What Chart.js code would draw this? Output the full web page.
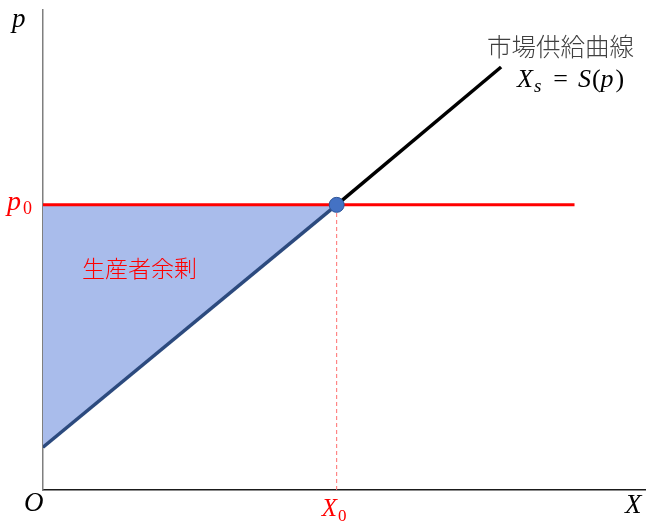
<!DOCTYPE html>
<html><head><meta charset="utf-8">
<script src="https://cdn.jsdelivr.net/npm/chart.js@4/dist/chart.umd.min.js"></script>
<style>html,body{margin:0;padding:0;background:#fff}#w{width:646px;height:521px}</style>
</head><body><div id="w"><canvas id="c" width="646" height="521"></canvas></div>
<script>
// Data (model units)
const X0 = 5;            // equilibrium quantity
const P0 = 6;            // equilibrium price
const supplyLowerX = [0, 5];
const supplyLowerP = [0.9, 6];
const supplyUpperX = [5, 7.8];
const supplyUpperP = [6, 8.9];
const priceLineX = [0, 9.05];
const priceLineP = [6, 6];
const surplusX = [0, 5, 0];
const surplusP = [0.9, 6, 6];
const dropX = [5, 5];
const dropP = [0, 6];
const xLabel = 'X', yLabel = 'p', originLabel = 'O';
const curveTitle = '市場供給曲線';
const surplusLabel = '生産者余剰';

const pts = (xs, ys) => xs.map((x, i) => ({x, y: ys[i]}));

const labels = {
  id: 'labels',
  afterDraw(chart) {
    const {ctx, scales: {x, y}} = chart;
    const serif = '"Liberation Serif", "DejaVu Serif", serif';
    ctx.save();
    ctx.textBaseline = 'alphabetic';
    ctx.textAlign = 'left';
    const seq = (parts, startX, baseY) => {
      let cx = startX;
      for (const [txt, font, dy, gap] of parts) {
        ctx.font = font;
        ctx.fillText(txt, cx, baseY + (dy || 0));
        cx += ctx.measureText(txt).width + (gap || 0);
      }
    };
    // axis names
    ctx.fillStyle = '#000';
    ctx.font = 'italic 27px ' + serif;
    ctx.fillText(yLabel, 12, 27);
    ctx.fillText(originLabel, 24, 511);
    ctx.fillText(xLabel, 625, 513);
    // X0
    const xp = x.getPixelForValue(X0);
    ctx.fillStyle = '#FF0000';
    seq([['X', 'italic 25px ' + serif, 0, 1], ['0', '17px ' + serif, 5]], xp - 15, 516);
    // p0
    const yp = y.getPixelForValue(P0);
    seq([['p', 'italic 28px ' + serif, 0, 2], ['0', '18px ' + serif, 4]], 7, yp + 5);
    // surplus label
    ctx.font = '300 23px "Noto Sans CJK JP"';
    ctx.fillStyle = '#FF0000';
    ctx.fillText(surplusLabel, 82, 277);
    // curve title
    ctx.fillStyle = '#404040';
    ctx.font = '300 24.5px "Noto Sans CJK JP"';
    ctx.fillText(curveTitle, 487, 56);
    ctx.fillStyle = '#000';
    seq([
      ['X', 'italic 26px ' + serif, 0, 1],
      ['s', 'italic 19px ' + serif, 5, 12],
      ['=', '26px ' + serif, 0, 10],
      ['S', 'italic 26px ' + serif, 0, 1],
      ['(', '26px ' + serif, 0, 0],
      ['p', 'italic 26px ' + serif, 0, 2],
      [')', '26px ' + serif, 0, 0]
    ], 517, 87);
    ctx.restore();
  }
};

new Chart(document.getElementById('c'), {
  type: 'scatter',
  data: {
    // first dataset is drawn on top
    datasets: [
      {data: [{x: X0, y: P0}], pointRadius: 7.5, backgroundColor: '#4472C4', borderColor: '#2F5597', borderWidth: 1},
      {data: pts(supplyUpperX, supplyUpperP), showLine: true, borderColor: '#000000', borderWidth: 3.5, pointRadius: 0},
      {data: pts(supplyLowerX, supplyLowerP), showLine: true, borderColor: '#2C4A7E', borderWidth: 3.5, pointRadius: 0},
      {data: pts(dropX, dropP), showLine: true, borderColor: '#FF6F6F', borderWidth: 1, borderDash: [4, 3], pointRadius: 0},
      {data: pts(priceLineX, priceLineP), showLine: true, borderColor: '#FF0000', borderWidth: 3, pointRadius: 0},
      {data: pts(surplusX, surplusP), showLine: true, fill: 'shape', backgroundColor: '#A9BCEB', borderWidth: 0, pointRadius: 0}
    ]
  },
  options: {
    responsive: false,
    animation: false,
    events: [],
    layout: {autoPadding: false, padding: {left: 35, right: 1, top: 10, bottom: 23}},
    plugins: {legend: {display: false}, tooltip: {enabled: false}},
    scales: {
      x: {type: 'linear', min: 0, max: 10.25, display: true,
          grid: {display: false}, ticks: {display: false},
          border: {display: true, color: '#1a1a1a', width: 1.5}},
      y: {type: 'linear', min: 0, max: 10.1, display: true,
          grid: {display: false}, ticks: {display: false},
          border: {display: true, color: '#7f7f7f', width: 1.5}}
    }
  },
  plugins: [labels]
});
</script></body></html>
